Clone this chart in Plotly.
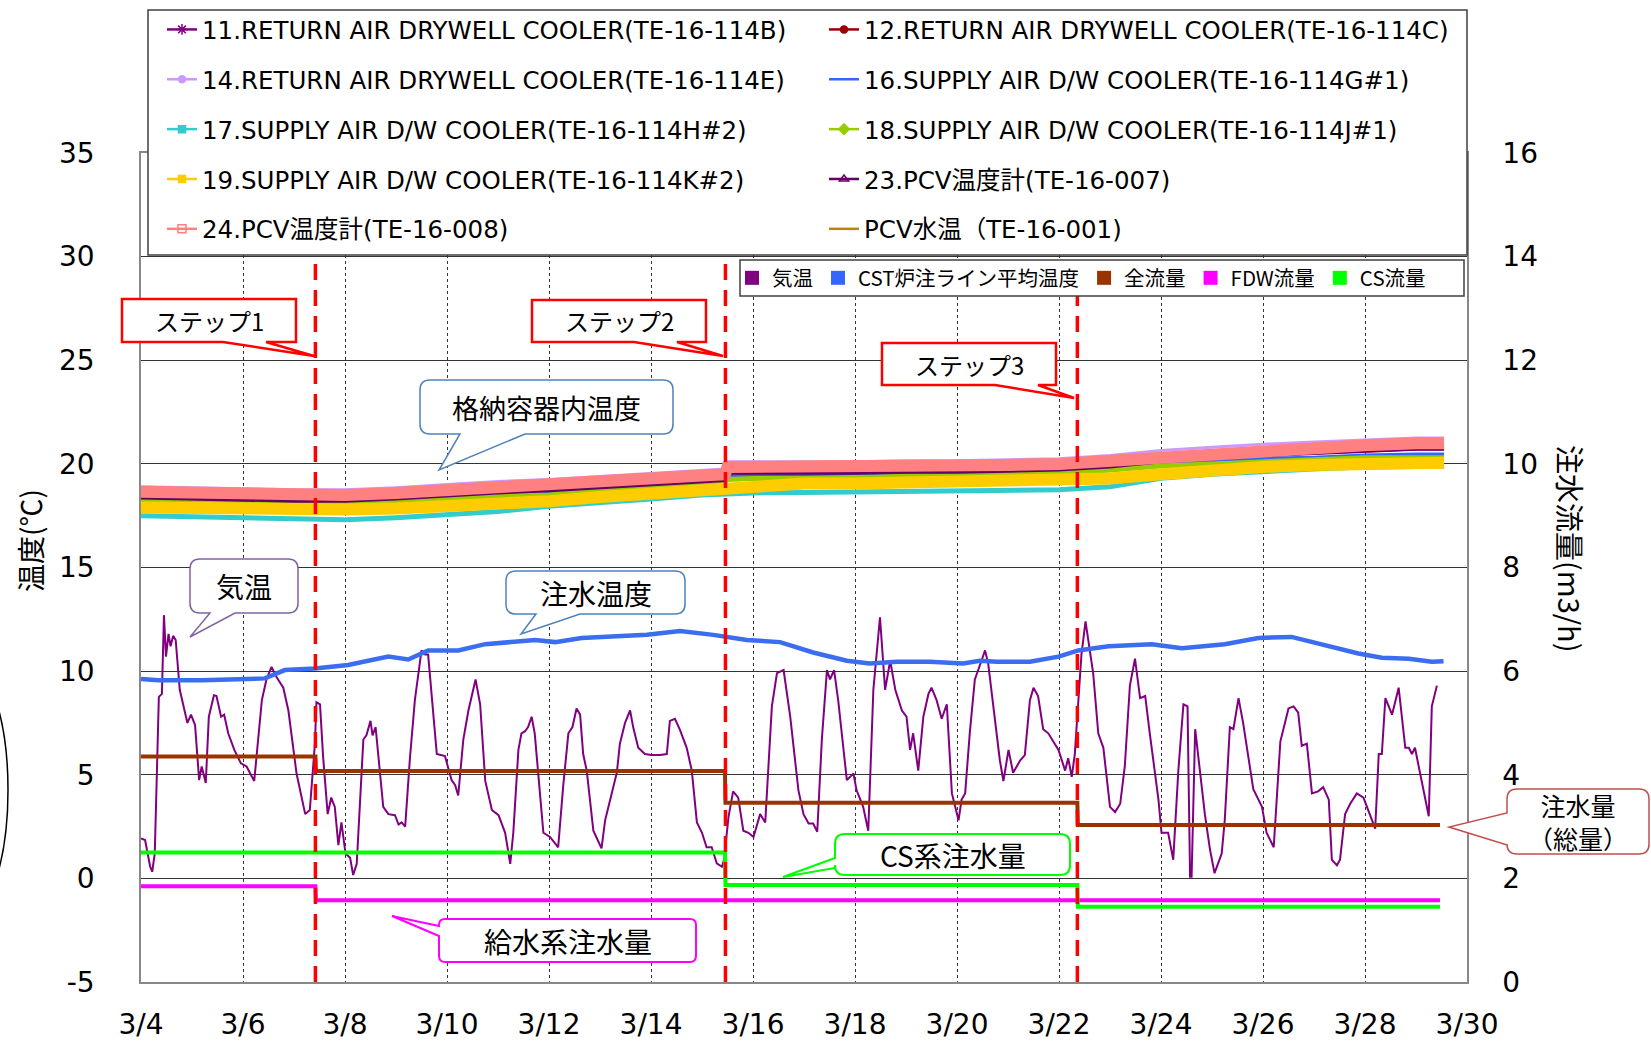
import plotly.graph_objects as go
import pandas as pd

# ---------------- data ----------------
BASE = pd.Timestamp("2014-03-04")

# PCV / drywell temperatures (deg C), sampled at these day offsets from 3/4 0:00
band_days = [0, 1, 2, 3, 4, 5, 6, 7, 8, 9, 10, 11, 11.45, 11.5, 12, 13, 14, 15, 16, 17,
             18, 19, 20, 21, 22, 23, 24, 25, 25.55]
te_114b = [18.37, 18.32, 18.27, 18.22, 18.22, 18.32, 18.47, 18.62, 18.72, 18.87, 19.02, 19.17, 19.22,
           19.57, 19.57, 19.57, 19.57, 19.62, 19.62, 19.67, 19.72, 19.87, 20.12, 20.27, 20.42, 20.52,
           20.62, 20.72, 20.72]
te_114c = [18.5, 18.45, 18.4, 18.35, 18.35, 18.45, 18.6, 18.75, 18.85, 19.0, 19.15, 19.3, 19.35, 19.7,
           19.7, 19.7, 19.7, 19.75, 19.75, 19.8, 19.85, 20.0, 20.25, 20.4, 20.55, 20.65, 20.75, 20.85, 20.85]
te_114e = [18.9, 18.85, 18.8, 18.75, 18.75, 18.85, 19.0, 19.15, 19.25, 19.4, 19.55, 19.7, 19.75, 20.1,
           20.1, 20.1, 20.1, 20.15, 20.15, 20.2, 20.25, 20.4, 20.65, 20.8, 20.95, 21.05, 21.15, 21.25, 21.25]
te_114g = [18.2, 18.15, 18.1, 18.05, 18.05, 18.15, 18.3, 18.45, 18.55, 18.7, 18.85, 19.0, 19.05, 19.45,
           19.45, 19.45, 19.45, 19.5, 19.5, 19.55, 19.6, 19.7, 19.95, 20.1, 20.25, 20.3, 20.4, 20.45, 20.45]
te_114h = [17.5, 17.45, 17.4, 17.35, 17.3, 17.4, 17.55, 17.7, 17.95, 18.1, 18.3, 18.5, 18.55, 18.55,
           18.6, 18.62, 18.65, 18.68, 18.7, 18.72, 18.75, 18.9, 19.3, 19.5, 19.65, 19.75, 19.85, 19.9, 19.9]
te_114j = [18.2, 18.2, 18.15, 18.1, 18.1, 18.2, 18.35, 18.45, 18.5, 18.7, 18.9, 19.1, 19.15, 19.25,
           19.3, 19.3, 19.35, 19.4, 19.45, 19.5, 19.55, 19.7, 19.9, 20.0, 20.1, 20.2, 20.3, 20.3, 20.3]
te_114k = [17.9, 17.85, 17.8, 17.75, 17.8, 17.85, 17.95, 18.05, 18.2, 18.4, 18.55, 18.75, 18.8, 18.85,
           18.95, 19.05, 19.05, 19.1, 19.1, 19.1, 19.15, 19.3, 19.5, 19.7, 19.85, 19.95, 20.0, 20.05, 20.05]
te_007 = [18.35, 18.3, 18.25, 18.2, 18.2, 18.3, 18.45, 18.6, 18.7, 18.85, 19.0, 19.15, 19.2, 19.55,
          19.55, 19.55, 19.55, 19.6, 19.6, 19.65, 19.7, 19.85, 20.1, 20.25, 20.4, 20.5, 20.6, 20.7, 20.7]
te_008 = [18.65, 18.6, 18.55, 18.5, 18.5, 18.6, 18.75, 18.9, 19.0, 19.15, 19.3, 19.45, 19.5, 19.85,
          19.85, 19.85, 19.85, 19.9, 19.9, 19.95, 20.0, 20.15, 20.4, 20.55, 20.7, 20.8, 20.9, 21.0, 21.0]

# outside air temperature (気温)
air_days = [0.00, 0.08, 0.18, 0.22, 0.27, 0.35, 0.41, 0.45, 0.49, 0.54, 0.58, 0.63, 0.68, 0.76, 0.91,
            0.98, 1.06, 1.14, 1.19, 1.27, 1.33, 1.43, 1.48, 1.57, 1.63, 1.71, 1.83, 1.96, 2.07, 2.22,
            2.37, 2.46, 2.56, 2.66, 2.79, 2.89, 3.05, 3.22, 3.31, 3.41, 3.44, 3.51, 3.57, 3.66, 3.73,
            3.80, 3.87, 3.93, 4.01, 4.10, 4.16, 4.23, 4.36, 4.42, 4.50, 4.54, 4.60, 4.75, 4.85, 4.98,
            5.05, 5.11, 5.18, 5.27, 5.37, 5.50, 5.57, 5.63, 5.80, 5.96, 6.09, 6.16, 6.22, 6.32, 6.42,
            6.56, 6.65, 6.75, 6.88, 7.01, 7.14, 7.24, 7.30, 7.40, 7.46, 7.53, 7.59, 7.66, 7.72, 7.89,
            8.02, 8.18, 8.28, 8.38, 8.46, 8.54, 8.61, 8.67, 8.74, 8.87, 9.03, 9.10, 9.23, 9.33, 9.39,
            9.49, 9.59, 9.65, 9.75, 9.88, 10.01, 10.18, 10.31, 10.37, 10.47, 10.57, 10.70, 10.80, 10.90,
            11.00, 11.09, 11.19, 11.29, 11.39, 11.43, 11.52, 11.61, 11.71, 11.81, 11.91, 12.01, 12.14,
            12.24, 12.37, 12.47, 12.53, 12.60, 12.73, 12.89, 12.99, 13.09, 13.18, 13.26, 13.35, 13.45,
            13.51, 13.59, 13.67, 13.84, 13.97, 14.03, 14.16, 14.26, 14.36, 14.49, 14.59, 14.69, 14.79,
            14.92, 15.01, 15.08, 15.14, 15.24, 15.34, 15.44, 15.50, 15.60, 15.70, 15.80, 15.90, 16.03,
            16.09, 16.16, 16.25, 16.35, 16.48, 16.55, 16.61, 16.74, 16.84, 16.91, 17.01, 17.10, 17.24,
            17.33, 17.43, 17.50, 17.59, 17.69, 17.79, 17.99, 18.12, 18.18, 18.25, 18.31, 18.38, 18.44,
            18.52, 18.59, 18.67, 18.77, 18.87, 19.00, 19.10, 19.20, 19.29, 19.39, 19.49, 19.59, 19.69,
            19.78, 19.95, 20.01, 20.14, 20.24, 20.34, 20.44, 20.52, 20.57, 20.60, 20.67, 20.86, 20.96,
            21.05, 21.19, 21.25, 21.35, 21.42, 21.52, 21.61, 21.81, 21.98, 22.07, 22.21, 22.34, 22.50,
            22.60, 22.69, 22.76, 22.86, 22.96, 23.08, 23.18, 23.29, 23.35, 23.45, 23.51, 23.61, 23.71,
            23.84, 23.97, 24.14, 24.20, 24.27, 24.33, 24.40, 24.53, 24.66, 24.79, 24.86, 24.92, 24.98,
            25.08, 25.18, 25.25, 25.31, 25.41]
air_temp = [1.93, 1.85, 0.56, 0.32, 1.2, 8.76, 8.9, 12.7, 10.7, 11.8, 11.2, 11.7, 11.5, 9.1, 7.5,
            7.9, 7.4, 4.74, 5.4, 4.6, 7.8, 8.84, 8.8, 7.8, 7.9, 7.0, 6.2, 5.55, 5.4, 4.7,
            8.6, 9.6, 10.2, 9.7, 9.2, 8.1, 5.06, 3.1, 3.3, 6.5, 8.5, 8.4, 5.9, 3.1, 3.9,
            3.45, 1.6, 2.7, 1.2, 1.0, 0.16, 0.7, 6.7, 6.9, 7.6, 6.9, 7.3, 3.45, 3.1, 3.05,
            2.6, 2.7, 2.5, 5.7, 8.6, 11.0, 10.8, 10.8, 6.0, 5.9, 4.74, 4.5, 4.0, 6.7, 8.1,
            9.6, 8.4, 4.7, 3.3, 3.05, 2.2, 0.7, 2.2, 6.2, 7.0, 7.1, 7.3, 7.8, 7.0, 2.2,
            2.0, 1.5, 4.5, 7.0, 7.3, 8.2, 7.9, 6.0, 5.2, 2.3, 1.45, 2.8, 4.1, 5.1, 6.5,
            7.5, 8.1, 7.3, 6.3, 6.0, 5.95, 5.95, 6.0, 7.6, 7.7, 7.15, 6.3, 5.2, 2.7,
            2.2, 1.5, 1.5, 0.72, 0.56, 0.88, 2.97, 4.2, 3.9, 2.3, 2.2, 2.0, 3.1,
            2.7, 8.3, 9.9, 9.97, 10.05, 7.8, 4.26, 3.1, 2.65, 2.65, 2.25, 6.7, 10.05,
            9.6, 10.05, 8.6, 4.74, 5.06, 4.26, 3.45, 2.3, 9.1, 12.6, 9.1, 10.5, 9.1,
            8.1, 7.8, 6.2, 7.0, 5.2, 7.8, 8.9, 9.2, 8.6, 7.7, 8.4, 4.1, 2.8,
            3.8, 4.1, 7.0, 9.6, 10.5, 11.0, 10.4, 7.8, 5.7, 4.7, 6.2, 5.1, 5.7,
            5.95, 8.6, 9.2, 8.8, 7.2, 7.0, 6.2, 5.2, 5.8, 4.9, 6.0, 8.9, 10.8,
            12.4, 11.3, 9.9, 7.0, 6.3, 3.45, 3.2, 3.6, 5.4, 9.3, 10.6, 8.7, 8.8,
            7.0, 3.8, 2.2, 2.2, 0.9, 5.2, 8.4, 8.3, 0.08, 0.08, 7.2, 3.1, 1.4,
            0.25, 1.2, 2.8, 7.3, 7.2, 8.7, 7.5, 4.3, 3.45, 2.2, 1.5, 6.6, 8.2,
            8.3, 8.0, 6.4, 6.5, 4.1, 4.2, 4.4, 3.8, 0.9, 0.63, 0.9, 3.1, 3.6,
            4.1, 3.9, 2.8, 2.4, 6.0, 6.0, 8.7, 7.9, 9.2, 6.3, 6.3, 6.0, 6.3,
            5.06, 3.8, 3.0, 8.3, 9.3]

# CST injection-line mean temperature (注水温度)
cst_days = [0.0, 0.34, 1.19, 1.97, 2.43, 2.82, 3.41, 4.06, 4.46, 4.85, 5.24, 5.63, 6.22, 6.75, 7.73,
            8.12, 8.64, 9.26, 9.92, 10.57, 11.22, 11.88, 12.53, 13.18, 13.84, 14.29, 14.82, 15.47,
            16.12, 16.45, 16.78, 17.43, 17.99, 18.38, 18.97, 19.82, 20.41, 21.25, 21.91, 22.56, 23.22,
            23.87, 24.33, 24.86, 25.31, 25.54]
cst_temp = [9.62, 9.56, 9.56, 9.6, 9.65, 10.05, 10.13, 10.3, 10.5, 10.7, 10.56, 11.0, 11.0, 11.3, 11.5,
            11.4, 11.6, 11.65, 11.75, 11.93, 11.75, 11.5, 11.4, 10.9, 10.5, 10.37, 10.45, 10.45,
            10.37, 10.5, 10.45, 10.45, 10.7, 11.0, 11.2, 11.3, 11.1, 11.3, 11.6, 11.65, 11.25,
            10.85, 10.65, 10.6, 10.45, 10.48]

# injection flow rates (m3/h), right axis
flow_days = [0, 3.42, 3.43, 11.45, 11.46, 18.36, 18.37, 25.47]
flow_total = [4.35, 4.35, 4.07, 4.07, 3.46, 3.46, 3.03, 3.03]
flow_fdw = [1.85, 1.85, 1.58, 1.58, 1.58, 1.58, 1.58, 1.58]
flow_cs = [2.50, 2.50, 2.50, 2.50, 1.87, 1.87, 1.45, 1.45]

# steps of flow reduction
step_days = [3.42, 11.46, 18.36]
step_labels = ["ステップ1", "ステップ2", "ステップ3"]

# tick labels
y_ticks = [-5, 0, 5, 10, 15, 20, 25, 30, 35]
y_ticktext = ["-5", "0", "5", "10", "15", "20", "25", "30", "35"]
y2_ticks = [0, 2, 4, 6, 8, 10, 12, 14, 16]

legend1_names = ["11.RETURN AIR DRYWELL COOLER(TE-16-114B)", "12.RETURN AIR DRYWELL COOLER(TE-16-114C)",
                 "14.RETURN AIR DRYWELL COOLER(TE-16-114E)", "16.SUPPLY AIR D/W COOLER(TE-16-114G#1)",
                 "17.SUPPLY AIR D/W COOLER(TE-16-114H#2)", "18.SUPPLY AIR D/W COOLER(TE-16-114J#1)",
                 "19.SUPPLY AIR D/W COOLER(TE-16-114K#2)", "23.PCV温度計(TE-16-007)",
                 "24.PCV温度計(TE-16-008)", "PCV水温（TE-16-001)"]
legend2_names = ["気温", "CST炉注ライン平均温度", "全流量", "FDW流量", "CS流量"]

# ---------------- helpers ----------------
W, H = 1651, 1043
PL, PR, PT, PB = 141, 1467, 153, 982   # plot area in pixels


def when(days):
    return [BASE + pd.to_timedelta(round(d * 86400), unit="s") for d in days]


def px(x):
    return (x - PL) / (PR - PL)


def py(y):
    return (PB - y) / (PB - PT)


def P(x, y):
    return f"{px(x):.5f},{py(y):.5f}"


def callout_path(x0, y0, x1, y1, r, tail):
    s = f"M{P(x0 + r, y0)} L{P(x1 - r, y0)}"
    if r:
        s += f" Q{P(x1, y0)} {P(x1, y0 + r)}"
    s += f" L{P(x1, y1 - r)}"
    if r:
        s += f" Q{P(x1, y1)} {P(x1 - r, y1)}"
    if tail[0] == "bottom":
        _, a, b, tx, ty = tail
        s += f" L{P(b, y1)} L{P(tx, ty)} L{P(a, y1)}"
    s += f" L{P(x0 + r, y1)}"
    if r:
        s += f" Q{P(x0, y1)} {P(x0, y1 - r)}"
    if tail[0] == "left":
        _, a, b, tx, ty = tail
        s += f" L{P(x0, b)} L{P(tx, ty)} L{P(x0, a)}"
    s += f" L{P(x0, y0 + r)}"
    if r:
        s += f" Q{P(x0, y0)} {P(x0 + r, y0)}"
    return s + " Z"


fig = go.Figure()

# ---------------- temperature band (drawn in Excel series order) ----------------
band_series = [
    (te_114b, "#800080", 3),
    (te_114c, "#990000", 3),
    (te_114e, "#cc99ff", 3),
    (te_114g, "#3366ff", 4),
    (te_114h, "#33cccc", 5),
    (te_114j, "#99cc00", 5),
    (te_114k, "#ffcc00", 12),
    (te_007, "#660066", 3),
    (te_008, "#ff8080", 12),
]
bx = when(band_days)
for vals, col, w in band_series:
    fig.add_trace(go.Scatter(x=bx, y=vals, mode="lines", line=dict(color=col, width=w),
                             showlegend=False, hoverinfo="skip"))

fig.add_trace(go.Scatter(x=when(air_days), y=air_temp, mode="lines",
                         line=dict(color="#800080", width=2), showlegend=False))
fig.add_trace(go.Scatter(x=when(cst_days), y=cst_temp, mode="lines",
                         line=dict(color="#3a6df0", width=4.5), showlegend=False))
fx = when(flow_days)
fig.add_trace(go.Scatter(x=fx, y=flow_total, yaxis="y2", mode="lines",
                         line=dict(color="#993300", width=4), showlegend=False))
fig.add_trace(go.Scatter(x=fx, y=flow_fdw, yaxis="y2", mode="lines",
                         line=dict(color="#ff00ff", width=4), showlegend=False))
fig.add_trace(go.Scatter(x=fx, y=flow_cs, yaxis="y2", mode="lines",
                         line=dict(color="#00ff00", width=4), showlegend=False))

# ---------------- legend entries ----------------
leg1_style = [
    ("#800080", "asterisk-open", 9),
    ("#990000", "circle", 7),
    ("#cc99ff", "circle", 7),
    ("#3366ff", None, 0),
    ("#33cccc", "square", 7),
    ("#99cc00", "diamond", 8),
    ("#ffcc00", "square", 7),
    ("#660066", "triangle-up-open", 8),
    ("#ff8080", "square-open", 8),
    ("#b8860b", None, 0),
]
for i, (name, (col, sym, sz)) in enumerate(zip(legend1_names, leg1_style)):
    mode = "lines+markers" if sym else "lines"
    fig.add_trace(go.Scatter(
        x=[None], y=[None], name=name, mode=mode,
        line=dict(color=col, width=2.5),
        marker=dict(symbol=sym or "circle", size=sz, color=col, line=dict(color=col, width=1.5)),
        legend="legend" if i % 2 == 0 else "legend2", legendgroup=f"g{i}"))

leg2_colors = ["#800080", "#3366ff", "#993300", "#ff00ff", "#00ff00"]
for name, col in zip(legend2_names, leg2_colors):
    fig.add_trace(go.Scatter(x=[None], y=[None], name=name, mode="markers",
                             marker=dict(symbol="square", size=14, color=col),
                             legend="legend3"))

# ---------------- shapes ----------------
shapes = []
for d in step_days:
    t = when([d])[0]
    shapes.append(dict(type="line", xref="x", yref="y", x0=t, x1=t, y0=-5, y1=35, layer="above",
                       line=dict(color="#ff0000", width=3.5, dash="16px,10px")))
# legend boxes
shapes.append(dict(type="rect", xref="paper", yref="paper", x0=px(148), x1=px(1467), y0=py(10), y1=py(255),
                   fillcolor="white", line=dict(color="#404040", width=1.5), layer="above"))
shapes.append(dict(type="rect", xref="paper", yref="paper", x0=px(740), x1=px(1464), y0=py(260), y1=py(296),
                   fillcolor="white", line=dict(color="#404040", width=1.5), layer="above"))

callouts = [
    # x0, y0, x1, y1, radius, tail, border colour, border width, text, font size
    (122, 299, 296, 342, 0, ("bottom", 223, 266, 314, 356), "#ff0000", 2.5, step_labels[0], 24),
    (532, 300, 706, 342, 0, ("bottom", 634, 677, 723, 356), "#ff0000", 2.5, step_labels[1], 24),
    (882, 343, 1056, 385, 0, ("bottom", 995, 1038, 1074, 398), "#ff0000", 2.5, step_labels[2], 24),
    (420, 380, 673, 434, 10, ("bottom", 460, 525, 439, 470), "#4f81bd", 1.5, "格納容器内温度", 27),
    (190, 559, 298, 613, 10, ("bottom", 210, 235, 190, 637), "#8064a2", 1.5, "気温", 28),
    (506, 571, 685, 614, 10, ("bottom", 536, 580, 521, 634), "#4f81bd", 1.5, "注水温度", 28),
    (835, 834, 1070, 875, 10, ("left", 858, 868, 783, 877), "#00ff00", 2, "CS系注水量", 28),
    (439, 919, 696, 962, 6, ("left", 926, 936, 392, 916), "#ff00ff", 2, "給水系注水量", 28),
    (1507, 789, 1649, 854, 10, ("left", 813, 845, 1449, 827), "#c0504d", 1.5, "注水量<br>（総量）", 25),
]
annotations = []
for x0, y0, x1, y1, r, tail, col, lw, text, fs in callouts:
    shapes.append(dict(type="path", xref="paper", yref="paper", path=callout_path(x0, y0, x1, y1, r, tail),
                       fillcolor="white", line=dict(color=col, width=lw), layer="above"))
    annotations.append(dict(xref="paper", yref="paper", x=px((x0 + x1) / 2), y=py((y0 + y1) / 2),
                            text=text, showarrow=False, xanchor="center", yanchor="middle",
                            font=dict(family="Noto Sans CJK JP", size=fs, color="black")))

# partial ellipse at the left edge
shapes.append(dict(type="circle", xref="paper", yref="paper", x0=px(-80), x1=px(8), y0=py(920), y1=py(660),
                   line=dict(color="black", width=1.5), layer="above"))

# axis titles
annotations.append(dict(xref="paper", yref="paper", x=px(30), y=py(541), text="温度(℃)", textangle=-90,
                        xanchor="center", yanchor="middle", showarrow=False,
                        font=dict(family="Noto Sans CJK JP", size=28, color="black")))
annotations.append(dict(xref="paper", yref="paper", x=px(1571), y=py(549), text="注水流量(m3/h)", textangle=90,
                        xanchor="center", yanchor="middle", showarrow=False,
                        font=dict(family="Noto Sans CJK JP", size=29, color="black")))

tickfont = dict(family="DejaVu Sans", size=28, color="black")
leg_font = dict(family="DejaVu Sans, Noto Sans CJK JP", size=24.5, color="black")
fig.update_layout(
    width=W, height=H,
    margin=dict(l=PL, r=W - PR, t=PT, b=H - PB, pad=0, autoexpand=False),
    paper_bgcolor="white", plot_bgcolor="white",
    xaxis=dict(type="date", range=[BASE, BASE + pd.Timedelta(days=26)], tick0=BASE, dtick=2 * 86400000,
               tickformat="%-m/%-d", showgrid=True, gridcolor="#333333", griddash="dot", gridwidth=1,
               showline=True, linecolor="#888888", linewidth=1.5, mirror=True, ticks="",
               tickfont=tickfont, ticklabelstandoff=17, zeroline=False),
    yaxis=dict(range=[-5, 35], tickmode="array", tickvals=y_ticks, ticktext=y_ticktext,
               showgrid=True, gridcolor="#333333", gridwidth=1,
               showline=True, linecolor="#888888", linewidth=1.5, ticks="", tickfont=tickfont,
               ticklabelstandoff=39, zeroline=False),
    yaxis2=dict(overlaying="y", side="right", range=[0, 16], tickmode="array", tickvals=y2_ticks,
                showgrid=False, showline=True, linecolor="#888888", linewidth=1.5, ticks="",
                tickfont=tickfont, ticklabelstandoff=28, zeroline=False),
    legend=dict(xref="paper", yref="paper", x=px(162), y=py(7), xanchor="left", yanchor="top",
                orientation="v", bgcolor="rgba(0,0,0,0)", borderwidth=0, font=leg_font,
                tracegroupgap=15, itemclick=False),
    legend2=dict(xref="paper", yref="paper", x=px(824), y=py(7), xanchor="left", yanchor="top",
                 orientation="v", bgcolor="rgba(0,0,0,0)", borderwidth=0, font=leg_font,
                 tracegroupgap=15, itemclick=False),
    legend3=dict(xref="paper", yref="paper", x=px(732), y=py(278), xanchor="left",
                 yanchor="middle", orientation="h", bgcolor="rgba(0,0,0,0)", borderwidth=0,
                 font=dict(family="Noto Sans CJK JP", size=20.5, color="black"), itemclick=False),
    shapes=shapes,
    annotations=annotations,
    hovermode=False,
)

fig.write_html("out.html", config={"displayModeBar": False},
               post_script="document.body.style.margin='0';document.body.style.padding='0';")
